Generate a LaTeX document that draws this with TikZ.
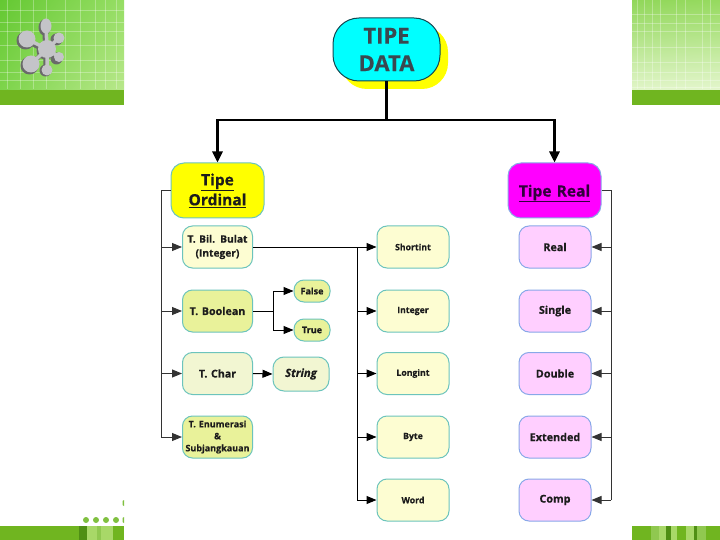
\documentclass[tikz,border=0pt]{standalone}
\usepackage{fontspec}
\setmainfont[BoldFeatures={FakeBold=0.5},BoldItalicFeatures={FakeBold=0.5}]{Open Sans}
\usetikzlibrary{arrows.meta,calc,shadings}
\definecolor{bandg}{HTML}{70B520}
\definecolor{tealb}{HTML}{6CC4BC}
\definecolor{blueb}{HTML}{88A8E8}
\definecolor{creamf}{HTML}{FDFDD2}
\definecolor{limef}{HTML}{E9F29A}
\definecolor{paleg}{HTML}{F2F6D2}
\definecolor{pinkf}{HTML}{FFCFFF}
\definecolor{txt}{HTML}{1C1C1C}
\definecolor{lnk}{HTML}{333333}
\definecolor{rootb}{HTML}{144650}
\definecolor{roott}{HTML}{3A4850}
\definecolor{realt}{HTML}{32003C}
\definecolor{purecyan}{RGB}{0,255,255}
\definecolor{puremag}{RGB}{255,0,255}
\definecolor{pureyel}{RGB}{255,255,0}
\definecolor{gla}{RGB}{100,200,50}
\definecolor{glb}{RGB}{150,222,100}
\definecolor{glc}{RGB}{125,212,75}
\definecolor{gld}{RGB}{185,232,140}
\definecolor{gra}{RGB}{145,215,90}
\definecolor{grb}{RGB}{150,218,95}
\definecolor{grc}{RGB}{225,245,200}
\definecolor{grd}{RGB}{228,246,205}
\definecolor{darkband}{HTML}{4F8F14}
\definecolor{lightband}{HTML}{A8D868}
\definecolor{midband}{HTML}{90C850}
\definecolor{dotg}{HTML}{80C040}
\definecolor{blobd}{HTML}{6A6A6A}
\definecolor{blobl}{HTML}{C4C4C8}
\tikzset{
  x=1pt,y=-1pt,
  nodebox/.style={draw=tealb,line width=1pt,rounded corners=10pt,align=center,font=\bfseries\fontsize{9}{13}\selectfont,text=txt,inner sep=0pt,text width=#1},
  nodebox/.default=70pt,
  leftbox/.style={nodebox=70pt,minimum width=70pt,minimum height=42pt},
  smallbox/.style={nodebox=72pt,minimum width=72pt,minimum height=42pt,font=\bfseries\fontsize{8.7}{10}\selectfont},
  pinkbox/.style={nodebox=72pt,minimum width=72pt,minimum height=42pt,fill=pinkf,draw=blueb,font=\bfseries\fontsize{10.8}{12}\selectfont},
  headbox/.style={nodebox=93pt,minimum width=93pt,minimum height=55pt,rounded corners=13pt,font=\bfseries\fontsize{15.5}{20}\selectfont},
  pillbox/.style={nodebox=36pt,minimum width=36pt,minimum height=22pt,rounded corners=10pt,fill=limef,font=\bfseries\fontsize{9}{10}\selectfont},
  thickl/.style={line width=2.6pt,black},
  thickarr/.style={line width=2.6pt,black,-{Triangle[length=11pt,width=10pt]}},
  link/.style={line width=1pt,lnk},
  arr/.style={line width=1pt,lnk,-{Triangle[length=10pt,width=8pt]}},
  blink/.style={line width=1pt,black},
  barr/.style={line width=1pt,black,-{Triangle[length=10pt,width=8pt]}},
  gridl/.style={white,opacity=.3,line width=.8pt},
  blob/.style={fill=#1,draw=none}
}
\begin{document}
\begin{tikzpicture}
\useasboundingbox (0,0) rectangle (720,540);
\fill[white] (0,0) rectangle (720,540);
% --- top left banner
\shade[upper left=gla,upper right=glb,lower left=glc,lower right=gld] (0,0) rectangle (124,90);
\foreach \q in {7,20,33,46,65,80,95,105,116}{\draw[gridl] (\q,0) -- (\q,89);}
\foreach \q in {10,22,31,45,60,72,80}{\draw[gridl] (0,\q) -- (124,\q);}
\fill[bandg] (0,90) rectangle (124,105);
% --- top right banner
\shade[upper left=gra,upper right=grb,lower left=grc,lower right=grd] (632,0) rectangle (720,90);
\foreach \q in {637,644,652,660,676,685,702,710}{\draw[gridl] (\q,0) -- (\q,89);}
\foreach \q in {14,23,31,47,62,72,80,87}{\draw[gridl] (632,\q) -- (720,\q);}
\fill[bandg] (632,90) rectangle (720,105);
% --- logo
\begin{scope}[shift={(-1.5,1.5)}]
\fill[blob=blobd] (46,26) ellipse (6 and 8) (27,39) circle (9) (31,64) circle (9) (47,69) circle (6) (58,38) circle (6) (58,57) circle (6) (47,49) circle (9);
\draw[blobd,line width=4.5pt] (47,49) -- (46,26) (47,49) -- (27,39) (47,49) -- (31,64) (47,49) -- (47,69) (47,49) -- (58,38) (47,49) -- (58,57);
\end{scope}
\fill[blob=blobl] (46,26) ellipse (5.5 and 7.5) (27,39) circle (8.5) (31,64) circle (8.5) (47,70) circle (5.5) (59,38) circle (5.5) (59,57) circle (5) (47,49) circle (9);
\draw[blobl,line width=3.5pt] (47,49) -- (46,26) (47,49) -- (27,39) (47,49) -- (31,64) (47,49) -- (47,70) (47,49) -- (59,38) (47,49) -- (59,57);
% --- bottom bands
\fill[bandg] (0,526) rectangle (124,540);
\fill[darkband] (79,526) rectangle (87,540);
\fill[lightband] (87,526) rectangle (97,540);
\fill[midband] (97,526) rectangle (101,540);
\fill[lightband] (101,526) rectangle (113,540);
\fill[bandg] (632,526) rectangle (720,540);
\fill[midband] (651,526) rectangle (659,540);
\fill[lightband] (659,526) rectangle (666,540);
\fill[darkband] (666,526) rectangle (671,540);
\fill[lightband] (671,526) rectangle (677,540);
\fill[lightband] (686,526) rectangle (694,540);
\fill[darkband] (694,526) rectangle (697,540);
\fill[midband] (697,526) rectangle (706,540);
\foreach \q in {86,96,106,116}{\fill[dotg] (\q,520) circle (3);}
\fill[dotg] (124,517) -- (124,523) -- (122.5,522) -- (122.5,518) -- cycle;
\fill[dotg] (124,500) -- (124,506) -- (122.5,505) -- (122.5,501) -- cycle;
% --- root
\fill[pureyel,rounded corners=26pt] (341,26) rectangle (448,89);
\node[nodebox=107pt,minimum width=107pt,minimum height=63pt,rounded corners=26pt,fill=purecyan,draw=rootb,text=roott,font=\bfseries\fontsize{22}{27.5}\selectfont] (root) at (386.5,49.5) {TIPE\\DATA};
% --- heads
\node[headbox,fill=pureyel] (ord) at (217.5,190.5) {\raisebox{-4pt}{\underline{Tipe}}\\\raisebox{-4pt}{\underline{Ordinal}}};
\node[headbox,fill=puremag,draw=blueb,text=realt] (rea) at (554.5,190.5) {\raisebox{-6pt}[0pt][0pt]{\underline{Tipe Real}}};
% --- ordinal children
\node[leftbox,fill=creamf,font=\bfseries\fontsize{10.2}{14}\selectfont] (bil) at (217.5,247) {T. Bil. Bulat\\(Integer)};
\node[leftbox,fill=limef,font=\bfseries\fontsize{10.7}{12}\selectfont] (boo) at (217.5,311) {T. Boolean};
\node[leftbox,fill=paleg,font=\bfseries\fontsize{10.7}{12}\selectfont] (cha) at (217.5,373.5) {T. Char};
\node[leftbox,fill=limef,font=\bfseries\fontsize{9}{12}\selectfont] (enu) at (217.5,437) {T. Enumerasi\\\&\\Subjangkauan};
\node[pillbox] (fal) at (312,291) {False};
\node[pillbox] (tru) at (312,330) {True};
\node[nodebox=56pt,minimum width=56pt,minimum height=34pt,rounded corners=11pt,fill=paleg,font=\bfseries\itshape\fontsize{11.3}{13}\selectfont] (str) at (301,374) {String};
% --- integer children
\node[smallbox,fill=creamf] (sho) at (413,247) {Shortint};
\node[smallbox,fill=creamf] (int) at (413,311) {Integer};
\node[smallbox,fill=creamf] (lon) at (413,373.5) {Longint};
\node[smallbox,fill=creamf] (byt) at (413,437) {Byte};
\node[smallbox,fill=creamf] (wor) at (413,500) {Word};
% --- real children
\node[pinkbox] (r1) at (555,247) {Real};
\node[pinkbox] (r2) at (555,311) {Single};
\node[pinkbox] (r3) at (555,373.5) {Double};
\node[pinkbox] (r4) at (555,437) {Extended};
\node[pinkbox] (r5) at (555,500) {Comp};
% --- connectors
\coordinate (fork) at (386.5,120);
\coordinate (forkl) at (ord.north |- fork);
\coordinate (forkr) at (rea.north |- fork);
\draw[thickl] (root.south) -- (fork);
\draw[thickl] ([xshift=-1.3pt]forkl) -- ([xshift=1.3pt]forkr);
\draw[thickarr] (forkl) -- (ord.north);
\draw[thickarr] (forkr) -- (rea.north);
\coordinate (lbus) at (161,190.5);
\draw[link] (ord.west) -- (lbus) -- (lbus |- enu.west);
\draw[arr] (lbus |- bil.west) -- (bil.west);
\draw[arr] (lbus |- boo.west) -- (boo.west);
\draw[arr] (lbus |- cha.west) -- (cha.west);
\draw[arr] (lbus |- enu.west) -- (enu.west);
\coordinate (rbus) at (611,190.5);
\draw[link] (rea.east) -- (rbus) -- (rbus |- r5.east);
\foreach \n in {r1,r2,r3,r4,r5}{\draw[arr] (rbus |- \n.east) -- (\n.east);}
\coordinate (mbus) at (357,247);
\draw[blink] (mbus) -- (mbus |- wor.west);
\draw[barr] (bil.east) -- (sho.west);
\foreach \n in {int,lon,byt,wor}{\draw[barr] (mbus |- \n.west) -- (\n.west);}
\coordinate (bbus) at (273,311);
\draw[blink] (boo.east) -- (bbus);
\draw[barr] (bbus) |- (fal.west);
\draw[barr] (bbus) |- (tru.west);
\draw[barr] (cha.east) -- (str.west);
\end{tikzpicture}
\end{document}
